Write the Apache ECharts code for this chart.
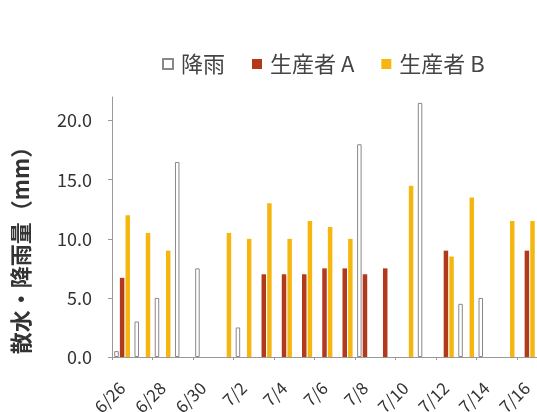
<!DOCTYPE html>
<html>
<head>
<meta charset="utf-8">
<script src="https://cdn.jsdelivr.net/npm/echarts@6/dist/echarts.min.js"></script>
<style>
  html, body { margin: 0; padding: 0; background: #fff; }
  #chart { width: 537px; height: 412px; }
</style>
</head>
<body>
<div id="chart"></div>
<script>
const dates = ['6/26', '6/27', '6/28', '6/29', '6/30', '7/1', '7/2', '7/3', '7/4', '7/5', '7/6',
  '7/7', '7/8', '7/9', '7/10', '7/11', '7/12', '7/13', '7/14', '7/15', '7/16']
const rain = [0.5, 3.0, 5.0, 16.5, 7.5, null, 2.5, null, null, null, null, null, 18.0, null, null, 21.5, null, 4.5, 5.0, null, null]
const producerA = [6.7, null, null, null, null, null, null, 7.0, 7.0, 7.0, 7.5, 7.5, 7.0, 7.5, null, null, 9.0, null, null, null, 9.0]
const producerB = [12.0, 10.5, 9.0, null, null, 10.5, 10.0, 13.0, 10.0, 11.5, 11.0, 10.0, null, null, 14.5, null, 8.5, 13.5, null, 11.5, 11.5]
const yTicks = [0, 5, 10, 15, 20]

const font = '"Noto Sans CJK JP", "Noto Sans", sans-serif'
const chart = echarts.init(document.getElementById('chart'))

function barSeries(name, data, style) {
  return {
    name: name,
    type: 'bar',
    data: data,
    barWidth: 4.5,
    barGap: '25%',
    itemStyle: style
  }
}

chart.setOption({
  animation: false,
  backgroundColor: '#fff',
  textStyle: { fontFamily: font },
  legend: {
    left: 157,
    top: 48,
    itemWidth: 10,
    itemHeight: 10,
    itemGap: 27,
    icon: 'rect',
    textStyle: { fontSize: 22, color: '#444', padding: [0, 0, 0, 3], fontFamily: font }
  },
  grid: {
    left: 112,
    right: 0,
    top: 97,
    bottom: 55,
    containLabel: false,
    outerBoundsMode: 'none'
  },
  xAxis: {
    type: 'category',
    data: dates,
    boundaryGap: true,
    axisLine: { lineStyle: { color: '#999' } },
    axisTick: { show: true, length: 3, lineStyle: { color: '#999' } },
    axisLabel: {
      interval: 1,
      rotate: 45,
      fontSize: 17,
      color: '#333',
      margin: 28,
      fontFamily: font
    }
  },
  yAxis: {
    type: 'value',
    min: 0,
    max: 22,
    interval: 5,
    name: '散水・降雨量（mm）',
    nameLocation: 'middle',
    nameRotate: 90,
    nameGap: 80,
    nameTextStyle: { fontSize: 22, fontWeight: 'bold', color: '#333', padding: [0, 36, 0, 0], fontFamily: font },
    splitLine: { show: false },
    axisLine: { show: true, lineStyle: { color: '#999' } },
    axisTick: { show: true, length: 4, customValues: yTicks, lineStyle: { color: '#999' } },
    axisLabel: {
      customValues: yTicks,
      fontSize: 18,
      color: '#333',
      margin: 20,
      fontFamily: font,
      formatter: v => v.toFixed(1)
    }
  },
  series: [
    barSeries('降雨', rain, { color: '#fff', borderColor: '#888', borderWidth: 1 }),
    barSeries('生産者 A', producerA, { color: '#B23A1C' }),
    barSeries('生産者 B', producerB, { color: '#F5B70F' })
  ]
})
</script>
</body>
</html>
